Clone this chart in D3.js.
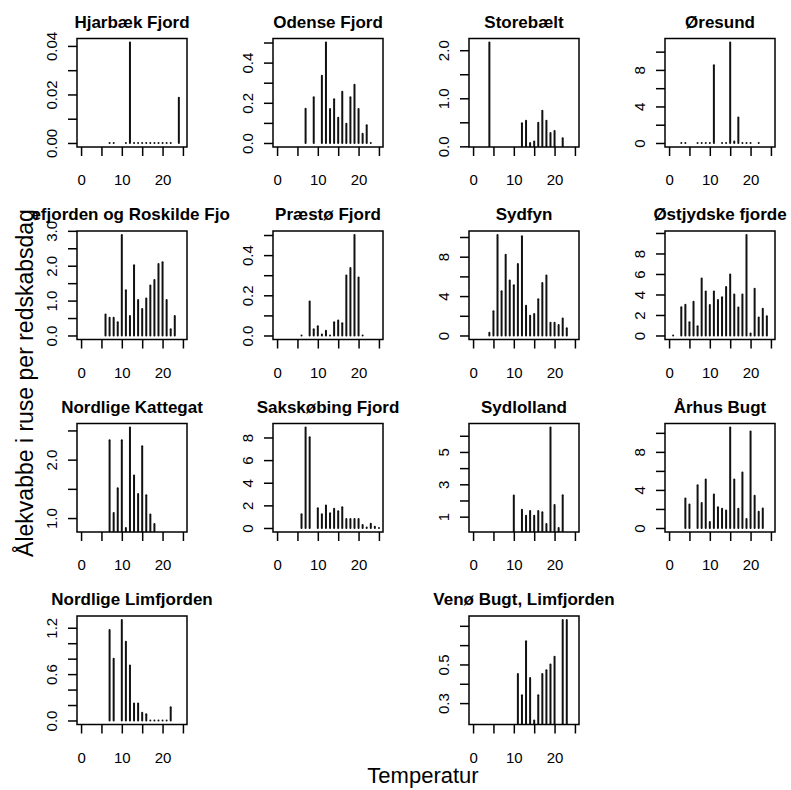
<!DOCTYPE html>
<html>
<head>
<meta charset="utf-8">
<script src="https://cdnjs.cloudflare.com/ajax/libs/d3/7.8.5/d3.min.js"></script>
<style>
body { margin: 0; background: #fff; }
svg { display: block; font-family: "Liberation Sans", Arial, Helvetica, sans-serif; }
</style>
</head>
<body>
<div class="chart"></div>
<script>
// temperature bins and catch per gear-day, one pair of arrays per area
var hjarbaekTemp = [7, 8, 11, 12, 13, 14, 15, 16, 17, 18, 19, 20, 21, 22, 24];
var hjarbaekCpue = [0, 0, 0, 0.0414, 0, 0, 0, 0, 0, 0, 0, 0, 0, 0, 0.0186];

var odenseTemp = [7, 9, 11, 12, 13, 14, 15, 16, 17, 18, 19, 20, 21, 22, 23];
var odenseCpue = [0.17, 0.227, 0.334, 0.5, 0.169, 0.218, 0.126, 0.255, 0.096, 0.227, 0.29, 0.169, 0.046, 0.088, 0];

var storebaeltTemp = [4, 12, 13, 14, 15, 16, 17, 18, 19, 20, 22];
var storebaeltCpue = [2.16, 0.48, 0.53, 0.07, 0.1, 0.49, 0.74, 0.53, 0.28, 0.32, 0.17];

var oresundTemp = [3, 4, 7, 8, 9, 10, 11, 13, 14, 15, 16, 17, 18, 19, 20, 22];
var oresundCpue = [0, 0, 0, 0, 0, 0, 8.5, 0, 0, 11.0, 0.15, 2.8, 0, 0, 0, 0];

var isefjordTemp = [6, 7, 8, 9, 10, 11, 12, 13, 14, 15, 16, 17, 18, 19, 20, 21, 22, 23];
var isefjordCpue = [0.6, 0.51, 0.51, 0.38, 2.88, 1.3, 0.56, 2.01, 1.02, 0.76, 1.06, 1.43, 1.59, 2.05, 2.1, 1.02, 0.18, 0.56];

var praestoTemp = [6, 8, 9, 10, 11, 12, 13, 14, 15, 16, 17, 18, 19, 20, 21];
var praestoCpue = [0, 0.169, 0.031, 0.046, 0.005, 0.023, 0, 0.066, 0.074, 0.061, 0.299, 0.336, 0.5, 0.289, 0];

var sydfynTemp = [4, 5, 6, 7, 8, 9, 10, 11, 12, 13, 14, 15, 16, 17, 18, 19, 20, 21, 22, 23];
var sydfynCpue = [0.27, 2.47, 10.2, 4.5, 8.2, 5.57, 5.1, 7.27, 10.07, 3.03, 2.0, 2.17, 3.67, 5.33, 6.1, 1.3, 1.3, 1.07, 1.73, 0.73];

var ostjyskTemp = [1, 3, 4, 5, 6, 7, 8, 9, 10, 11, 12, 13, 14, 15, 16, 17, 18, 19, 20, 21, 22, 23, 24];
var ostjyskCpue = [0, 2.75, 3.0, 1.3, 3.3, 0.9, 5.57, 4.3, 2.98, 4.3, 3.46, 3.72, 4.72, 5.95, 4.0, 2.72, 4.0, 9.8, 0.2, 4.56, 1.75, 2.6, 1.88];

var kattegatTemp = [7, 8, 9, 10, 11, 12, 13, 14, 15, 16, 17, 18];
var kattegatCpue = [2.33, 1.086, 1.51, 2.33, 0.83, 2.55, 1.73, 1.41, 2.23, 1.39, 1.06, 0.9];

var sakskobingTemp = [6, 7, 8, 10, 11, 12, 13, 14, 15, 16, 17, 18, 19, 20, 21, 22, 23, 24, 25];
var sakskobingCpue = [1.21, 8.88, 8.02, 1.74, 1.21, 1.98, 1.3, 1.71, 1.47, 1.83, 0.8, 0.8, 0.8, 0.8, 0.27, 0.05, 0.38, 0.1, 0];

var sydlollandTemp = [10, 12, 13, 14, 15, 16, 17, 18, 19, 20, 21, 22];
var sydlollandCpue = [2.31, 1.43, 1.06, 1.35, 1.06, 1.35, 1.27, 0.55, 6.51, 1.72, 0.3, 2.33];

var aarhusTemp = [4, 5, 7, 8, 9, 10, 11, 12, 13, 14, 15, 16, 17, 18, 19, 20, 21, 22, 23];
var aarhusCpue = [3.1, 2.48, 4.48, 2.62, 5.1, 0.63, 3.53, 2.17, 2.03, 1.85, 10.56, 5.1, 2.03, 5.84, 0.94, 10.14, 3.39, 1.71, 2.06];

var limfjordTemp = [7, 8, 10, 11, 12, 13, 14, 15, 16, 17, 18, 19, 20, 21, 22];
var limfjordCpue = [1.17, 0.8, 1.3, 1.02, 0.71, 0.22, 0.22, 0.1, 0.08, 0, 0, 0, 0, 0, 0.17];

var venoTemp = [11, 12, 13, 14, 15, 16, 17, 18, 19, 20, 22, 23];
var venoCpue = [0.45, 0.34, 0.62, 0.43, 0.21, 0.34, 0.45, 0.47, 0.5, 0.54, 0.73, 0.73];

// axis ticks
var xTicks = [0, 5, 10, 15, 20, 25];
var xLabels = ["0", "10", "20"];

var hjarbaekTicks = [0, 0.01, 0.02, 0.03, 0.04], hjarbaekLabels = ["0.00", "0.02", "0.04"];
var odenseTicks = [0, 0.1, 0.2, 0.3, 0.4, 0.5], odenseLabels = ["0.0", "0.2", "0.4"];
var storebaeltTicks = [0, 0.5, 1, 1.5, 2], storebaeltLabels = ["0.0", "1.0", "2.0"];
var oresundTicks = [0, 2, 4, 6, 8, 10], oresundLabels = ["0", "4", "8"];
var isefjordTicks = [0, 0.5, 1, 1.5, 2, 2.5, 3], isefjordLabels = ["0.0", "1.0", "2.0", "3.0"];
var praestoTicks = [0, 0.1, 0.2, 0.3, 0.4, 0.5], praestoLabels = ["0.0", "0.2", "0.4"];
var sydfynTicks = [0, 2, 4, 6, 8, 10], sydfynLabels = ["0", "4", "8"];
var ostjyskTicks = [0, 2, 4, 6, 8, 10], ostjyskLabels = ["0", "2", "4", "6", "8"];
var kattegatTicks = [1, 1.5, 2, 2.5], kattegatLabels = ["1.0", "2.0"];
var sakskobingTicks = [0, 2, 4, 6, 8], sakskobingLabels = ["0", "2", "4", "6", "8"];
var sydlollandTicks = [1, 2, 3, 4, 5, 6], sydlollandLabels = ["1", "3", "5"];
var aarhusTicks = [0, 2, 4, 6, 8, 10], aarhusLabels = ["0", "4", "8"];
var limfjordTicks = [0, 0.2, 0.4, 0.6, 0.8, 1, 1.2], limfjordLabels = ["0.0", "0.6", "1.2"];
var venoTicks = [0.3, 0.4, 0.5, 0.6, 0.7], venoLabels = ["0.3", "0.5"];

var panels = [
    { title: "Hjarbæk Fjord", temp: hjarbaekTemp, cpue: hjarbaekCpue, ticks: hjarbaekTicks, labels: hjarbaekLabels, slot: 0 },
    { title: "Odense Fjord", temp: odenseTemp, cpue: odenseCpue, ticks: odenseTicks, labels: odenseLabels, slot: 1 },
    { title: "Storebælt", temp: storebaeltTemp, cpue: storebaeltCpue, ticks: storebaeltTicks, labels: storebaeltLabels, slot: 2 },
    { title: "Øresund", temp: oresundTemp, cpue: oresundCpue, ticks: oresundTicks, labels: oresundLabels, slot: 3 },
    { title: "Isefjorden og Roskilde Fjord", temp: isefjordTemp, cpue: isefjordCpue, ticks: isefjordTicks, labels: isefjordLabels, slot: 4, zeroBase: true },
    { title: "Præstø Fjord", temp: praestoTemp, cpue: praestoCpue, ticks: praestoTicks, labels: praestoLabels, slot: 5 },
    { title: "Sydfyn", temp: sydfynTemp, cpue: sydfynCpue, ticks: sydfynTicks, labels: sydfynLabels, slot: 6, zeroBase: true },
    { title: "Østjydske fjorde", temp: ostjyskTemp, cpue: ostjyskCpue, ticks: ostjyskTicks, labels: ostjyskLabels, slot: 7 },
    { title: "Nordlige Kattegat", temp: kattegatTemp, cpue: kattegatCpue, ticks: kattegatTicks, labels: kattegatLabels, slot: 8 },
    { title: "Sakskøbing Fjord", temp: sakskobingTemp, cpue: sakskobingCpue, ticks: sakskobingTicks, labels: sakskobingLabels, slot: 9 },
    { title: "Sydlolland", temp: sydlollandTemp, cpue: sydlollandCpue, ticks: sydlollandTicks, labels: sydlollandLabels, slot: 10 },
    { title: "Århus Bugt", temp: aarhusTemp, cpue: aarhusCpue, ticks: aarhusTicks, labels: aarhusLabels, slot: 11, zeroBase: true },
    { title: "Nordlige Limfjorden", temp: limfjordTemp, cpue: limfjordCpue, ticks: limfjordTicks, labels: limfjordLabels, slot: 12 },
    { title: "Venø Bugt, Limfjorden", temp: venoTemp, cpue: venoCpue, ticks: venoTicks, labels: venoLabels, slot: 14 }
];

var width = 791,
    height = 790;

var boxW = 110,
    boxH = 108.5;

var svg = d3.select(".chart")
    .append("svg")
    .attr("width", width)
    .attr("height", height);

panels.forEach(function (p, i) {
    drawPanel(p, i);
});

// outer axis titles
svg.append("text")
    .attr("transform", "translate(33,383) rotate(-90)")
    .attr("text-anchor", "middle")
    .style("font-size", "23px")
    .text("Ålekvabbe i ruse per redskabsdag");

svg.append("text")
    .attr("x", 423)
    .attr("y", 783)
    .attr("text-anchor", "middle")
    .style("font-size", "22px")
    .text("Temperatur");

function drawPanel(p, i) {
    var col = p.slot % 4,
        row = Math.floor(p.slot / 4);
    var left = 77 + col * 196,
        top = 38.5 + row * 192.5;

    var x = d3.scaleLinear()
        .domain([-1, 26])
        .range([left, left + boxW]);

    var lo = p.zeroBase ? 0 : d3.min(p.cpue),
        hi = d3.max(p.cpue);
    var pad = (hi - lo) * 0.04;
    var y = d3.scaleLinear()
        .domain([lo - pad, hi + pad])
        .range([top + boxH, top]);

    var g = svg.append("g").attr("class", "panel");

    svg.append("clipPath")
        .attr("id", "clip" + i)
        .append("rect")
        .attr("x", left)
        .attr("y", top)
        .attr("width", boxW)
        .attr("height", boxH);

    svg.append("clipPath")
        .attr("id", "tclip" + i)
        .append("rect")
        .attr("x", left - 45)
        .attr("y", top - 40)
        .attr("width", 198)
        .attr("height", 40);

    // vertical lines from zero (type = "h")
    g.append("g")
        .attr("clip-path", "url(#clip" + i + ")")
        .selectAll("line")
        .data(p.temp.map(function (t, k) { return { t: t, v: p.cpue[k] }; }))
        .enter().append("line")
        .attr("x1", function (d) { return x(d.t); })
        .attr("x2", function (d) { return x(d.t); })
        .attr("y1", y(0))
        .attr("y2", function (d) { return d.v === 0 ? y(0) - 0.01 : y(d.v); })
        .style("stroke", "#111")
        .style("stroke-width", 2)
        .style("stroke-linecap", "round");

    // x axis
    var xAxis = g.append("g")
        .attr("transform", "translate(0," + (top + boxH) + ")")
        .call(d3.axisBottom(x)
            .tickValues(xTicks)
            .tickSize(9)
            .tickSizeOuter(0)
            .tickPadding(18.5)
            .tickFormat(function (d) { return xLabels.indexOf(String(d)) >= 0 ? String(d) : ""; }));
    styleAxis(xAxis);

    // y axis, labels parallel to the axis
    var yAxis = g.append("g")
        .attr("transform", "translate(" + left + ",0)")
        .call(d3.axisLeft(y)
            .tickValues(p.ticks)
            .tickSize(9)
            .tickSizeOuter(0)
            .tickFormat(function (d) {
                var m = p.labels.filter(function (s) { return Math.abs(+s - d) < 1e-9; });
                return m.length ? m[0] : "";
            }));
    styleAxis(yAxis);
    yAxis.selectAll("text")
        .attr("x", null)
        .attr("dy", null)
        .attr("text-anchor", "middle")
        .attr("transform", "translate(-20,0) rotate(-90)");

    // box
    g.append("rect")
        .attr("x", left)
        .attr("y", top)
        .attr("width", boxW)
        .attr("height", boxH)
        .style("fill", "none")
        .style("stroke", "#000")
        .style("stroke-width", 1.5);

    g.append("text")
        .attr("clip-path", "url(#tclip" + i + ")")
        .attr("x", left + boxW / 2)
        .attr("y", top - 11)
        .attr("text-anchor", "middle")
        .style("font-size", "17px")
        .style("font-weight", "bold")
        .text(p.title);
}

function styleAxis(a) {
    a.select(".domain").remove();
    a.selectAll("line")
        .style("stroke", "#000")
        .style("stroke-width", 1.5);
    a.selectAll("text")
        .style("font-size", "15px")
        .style("font-family", "'Liberation Sans', Arial, sans-serif")
        .style("fill", "#000");
}
</script>
</body>
</html>
